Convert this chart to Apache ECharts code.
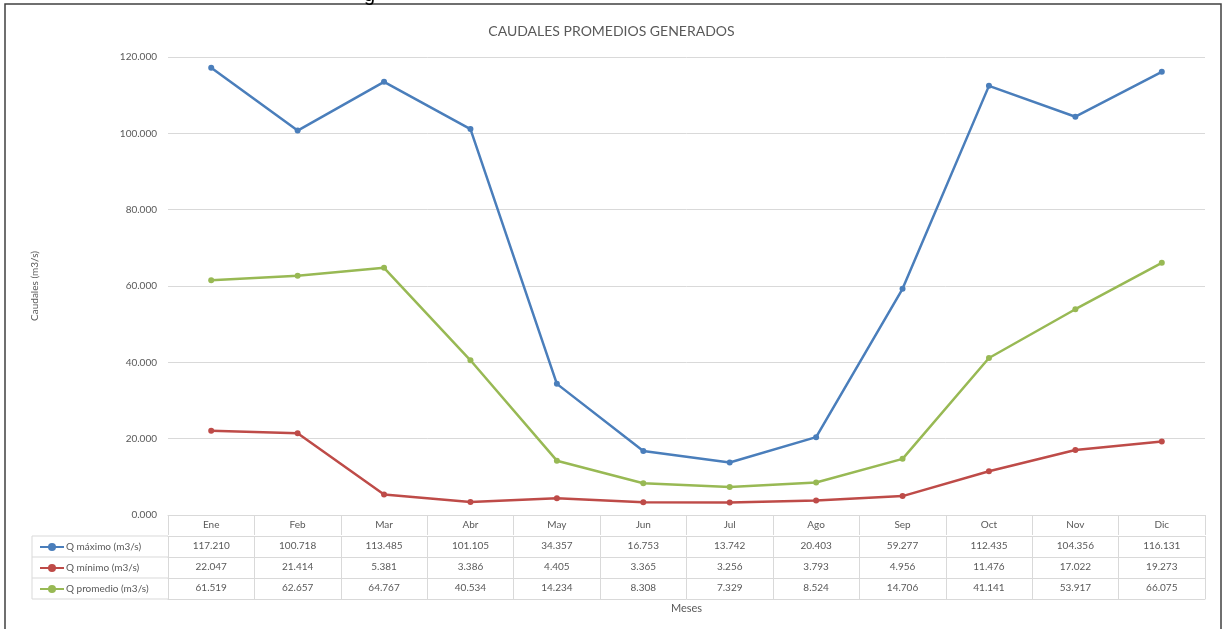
<!DOCTYPE html>
<html><head><meta charset="utf-8">
<script src="https://cdn.jsdelivr.net/npm/echarts@6/dist/echarts.min.js"></script>
<style>html,body{margin:0;padding:0;background:#fff}#c{width:1223px;height:629px}</style>
</head><body><div id="c"></div>
<script>
const months = ['Ene','Feb','Mar','Abr','May','Jun','Jul','Ago','Sep','Oct','Nov','Dic'];
const qMax = [117.210,100.718,113.485,101.105,34.357,16.753,13.742,20.403,59.277,112.435,104.356,116.131];
const qMin = [22.047,21.414,5.381,3.386,4.405,3.365,3.256,3.793,4.956,11.476,17.022,19.273];
const qProm = [61.519,62.657,64.767,40.534,14.234,8.308,7.329,8.524,14.706,41.141,53.917,66.075];
const seriesNames = ['Q máximo (m3/s)','Q mínimo (m3/s)','Q promedio (m3/s)'];
const colors = ['#4A7EBB','#BE4B48','#98B954'];
const yTicks = [0,20,40,60,80,100,120];

const FONT = 'Lato';
const gridC = '#D9D9D9';
const txtC = '#595959';
const fmt = v => v.toFixed(3);

const chart = echarts.init(document.getElementById('c'));
const rowOff = [21, 42, 63];
const rows = [qMax, qMin, qProm];

const xAxes = [{
  type:'category', data: months, gridIndex:0, position:'bottom',
  axisLine:{lineStyle:{color:gridC,width:1}},
  axisTick:{show:true, interval:0, length:20, lineStyle:{color:gridC}},
  axisLabel:{interval:0, margin:5, fontSize:10, color:txtC, fontFamily:FONT},
  name:'Meses', nameLocation:'middle', nameGap:88,
  nameTextStyle:{fontSize:11, color:txtC, fontFamily:FONT}
}];
rows.forEach((r,i)=>{
  xAxes.push({
    type:'category', data: r.map(fmt), gridIndex:0, position:'bottom', offset: rowOff[i],
    axisLine:{lineStyle:{color:gridC,width:1}},
    axisTick:{show:true, interval:0, length:21, lineStyle:{color:gridC}},
    axisLabel:{interval:0, margin:5, fontSize:10, color:txtC, fontFamily:FONT}
  });
});
xAxes.push({
  type:'category', data: months, gridIndex:0, position:'bottom', offset: 84,
  axisLine:{lineStyle:{color:gridC,width:1}},
  axisTick:{show:false}, axisLabel:{show:false}
});

const legendLines = [];
[536,557,578,599].forEach(y=>{
  legendLines.push({type:'line', shape:{x1:32,y1:y,x2:168,y2:y}, style:{stroke:gridC,lineWidth:1}});
});
legendLines.push({type:'line', shape:{x1:32,y1:536,x2:32,y2:599}, style:{stroke:gridC,lineWidth:1}});

chart.setOption({
  animation:false,
  backgroundColor:'#fff',
  color: colors,
  title:{text:'CAUDALES PROMEDIOS GENERADOS', left:'center', top:19,
    textStyle:{fontSize:14, fontWeight:'normal', color:txtC, fontFamily:FONT}},
  grid:{left:168, right:18, top:57, bottom:114, containLabel:false},
  legend:{orient:'vertical', left:34, top:537, itemGap:11, itemWidth:24, itemHeight:10,
    data: seriesNames,
    textStyle:{fontSize:10, color:txtC, fontFamily:FONT, padding:[0,0,0,-3]}},
  xAxis: xAxes,
  yAxis:{type:'value', min:yTicks[0], max:yTicks[yTicks.length-1], interval:20,
    axisLine:{show:false}, axisTick:{show:false},
    splitLine:{lineStyle:{color:gridC,width:1}},
    axisLabel:{formatter:v=>fmt(v), fontSize:10, color:txtC, fontFamily:FONT, margin:11},
    name:'Caudales (m3/s)', nameLocation:'middle', nameGap:128, nameRotate:90,
    nameTextStyle:{fontSize:10, color:txtC, fontFamily:FONT}},
  series: rows.map((r,i)=>({
    name: seriesNames[i], type:'line', data:r, xAxisIndex:0,
    symbol:'circle', symbolSize:6, lineStyle:{width:2.5},
    itemStyle:{color:colors[i]}
  })),
  graphic: [
    {type:'rect', shape:{x:5,y:4,width:1216,height:640}, style:{fill:'none',stroke:'#404040',lineWidth:1.5}},
    {type:'text', left:364, top:-15, style:{text:'g', fontSize:20, fill:'#000', fontFamily:'Liberation Sans'}}
  ].concat(legendLines)
});
</script></body></html>
